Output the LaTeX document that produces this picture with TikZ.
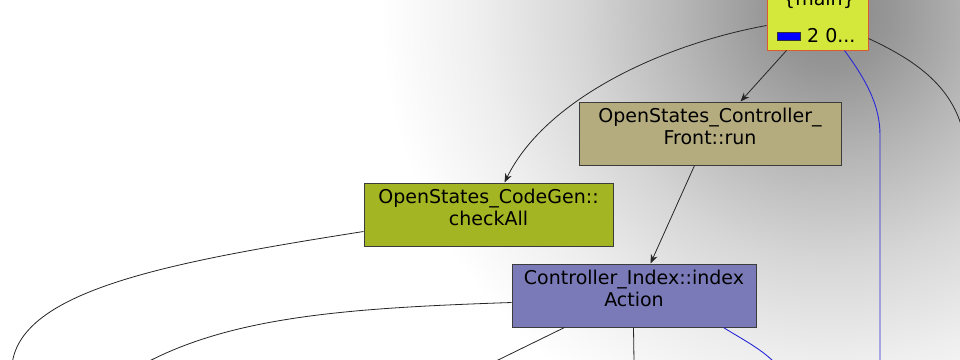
\documentclass[tikz,border=0pt]{standalone}
\usepackage{fontspec}
\setmainfont{DejaVu Sans}
\usetikzlibrary{arrows.meta,calc}
\definecolor{bgA}{HTML}{878787}
\definecolor{bgB}{HTML}{969696}
\definecolor{bgC}{HTML}{B6B6B6}
\definecolor{bgD}{HTML}{D6D6D6}
\definecolor{bgE}{HTML}{EEEEEE}
\pgfdeclareradialshading{bgsh}{\pgfpoint{0bp}{0bp}}{color(0bp)=(bgA); color(3bp)=(bgB); color(7.5bp)=(bgC); color(12.5bp)=(bgD); color(17.5bp)=(bgE); color(22.5bp)=(white); color(50bp)=(white)}
\definecolor{mainfill}{HTML}{D4E83C}
\definecolor{mainborder}{HTML}{DC5A32}
\definecolor{frontfill}{HTML}{B4AC7E}
\definecolor{codefill}{HTML}{A4B524}
\definecolor{indexfill}{HTML}{7A7AB8}
\definecolor{boxborder}{HTML}{3C3C3C}
\definecolor{edgeblue}{HTML}{2828D8}
\newcommand{\twolines}[2]{\raisebox{4pt}[\height][\depth]{\begin{tabular}{@{}c@{}}#1\\#2\end{tabular}}}
\tikzset{
  fnbox/.style={draw=boxborder, line width=1pt, rectangle, align=center, inner sep=0pt,
    font=\fontsize{19}{22}\selectfont, text=black},
  edge/.style={draw=black!85, line width=0.8pt},
  arr/.style={edge, -{Stealth[length=9pt,width=7pt]}},
  blueedge/.style={draw=edgeblue, line width=0.9pt},
}
\begin{document}
\begin{tikzpicture}[x=1pt,y=-1pt]
\useasboundingbox (0,0) rectangle (960,359);
\fill[white] (0,0) rectangle (960,359);
\begin{scope}
\clip (0,0) rectangle (960,359);
\shade[shading=bgsh] (830,10) circle[radius=500pt];
\end{scope}

% nodes
\node[fnbox, fill=mainfill, draw=mainborder, minimum width=101pt, minimum height=80pt] (main) at (817.5,10) {};
\node[anchor=base, font=\fontsize{19}{22}\selectfont, inner sep=0pt] (mainlbl) at (819,5) {\{main\}};
\node[draw=black!80, fill=blue, line width=0.6pt, minimum width=23pt, minimum height=8pt, inner sep=0pt] (icon) at (788.5,36) {};
\node[anchor=base west, font=\fontsize{19}{22}\selectfont, inner sep=0pt] (mainval) at (807,42) {2 0...};

\node[fnbox, fill=frontfill, minimum width=262pt, minimum height=63pt] (front) at (710,133.5) {\twolines{OpenStates\_Controller\_}{Front::run}};
\node[fnbox, fill=codefill, minimum width=249pt, minimum height=63pt] (codegen) at (488.5,214.5) {\twolines{OpenStates\_CodeGen::}{checkAll}};
\node[fnbox, fill=indexfill, minimum width=244pt, minimum height=63pt] (index) at (634,295.5) {\twolines{Controller\_Index::index}{Action}};

% free ends
\coordinate (bA) at (12,365);
\coordinate (bB) at (140,366);
\coordinate (bC) at (494,362);
\coordinate (bD) at (634,362);
\coordinate (bE) at (774,362);
\coordinate (bF) at (880,362);
\coordinate (rA) at (962,128);

% edges
\draw[arr] ($(main.south west)+(20,0)$) -- ($(front.north west)+(162,0)$);
\draw[arr] ($(main.north west)+(0,56)$) .. controls (660,45) and (545,100) .. ($(codegen.north west)+(141,0)$);
\draw[arr] ($(front.south west)+(116,0)$) -- ($(index.north west)+(139,0)$);
\draw[blueedge] ($(main.south west)+(78,0)$) .. controls (866,80) and (880,105) .. (880,135) -- (bF);
\draw[edge] ($(main.south east)+(0,-12)$) .. controls (915,60) and (950,85) .. (rA);
\draw[edge] ($(codegen.south west)+(0,-15)$) .. controls (170,262) and (20,290) .. (bA);
\draw[edge] ($(index.south west)+(0,-25)$) .. controls (350,308) and (230,316) .. (bB);
\draw[edge] ($(index.south west)+(53,0)$) -- (bC);
\draw[edge] ($(index.south west)+(122,0)$) -- (bD);
\draw[blueedge] ($(index.south west)+(212,0)$) .. controls (740,338) and (760,348) .. (bE);
\end{tikzpicture}
\end{document}
